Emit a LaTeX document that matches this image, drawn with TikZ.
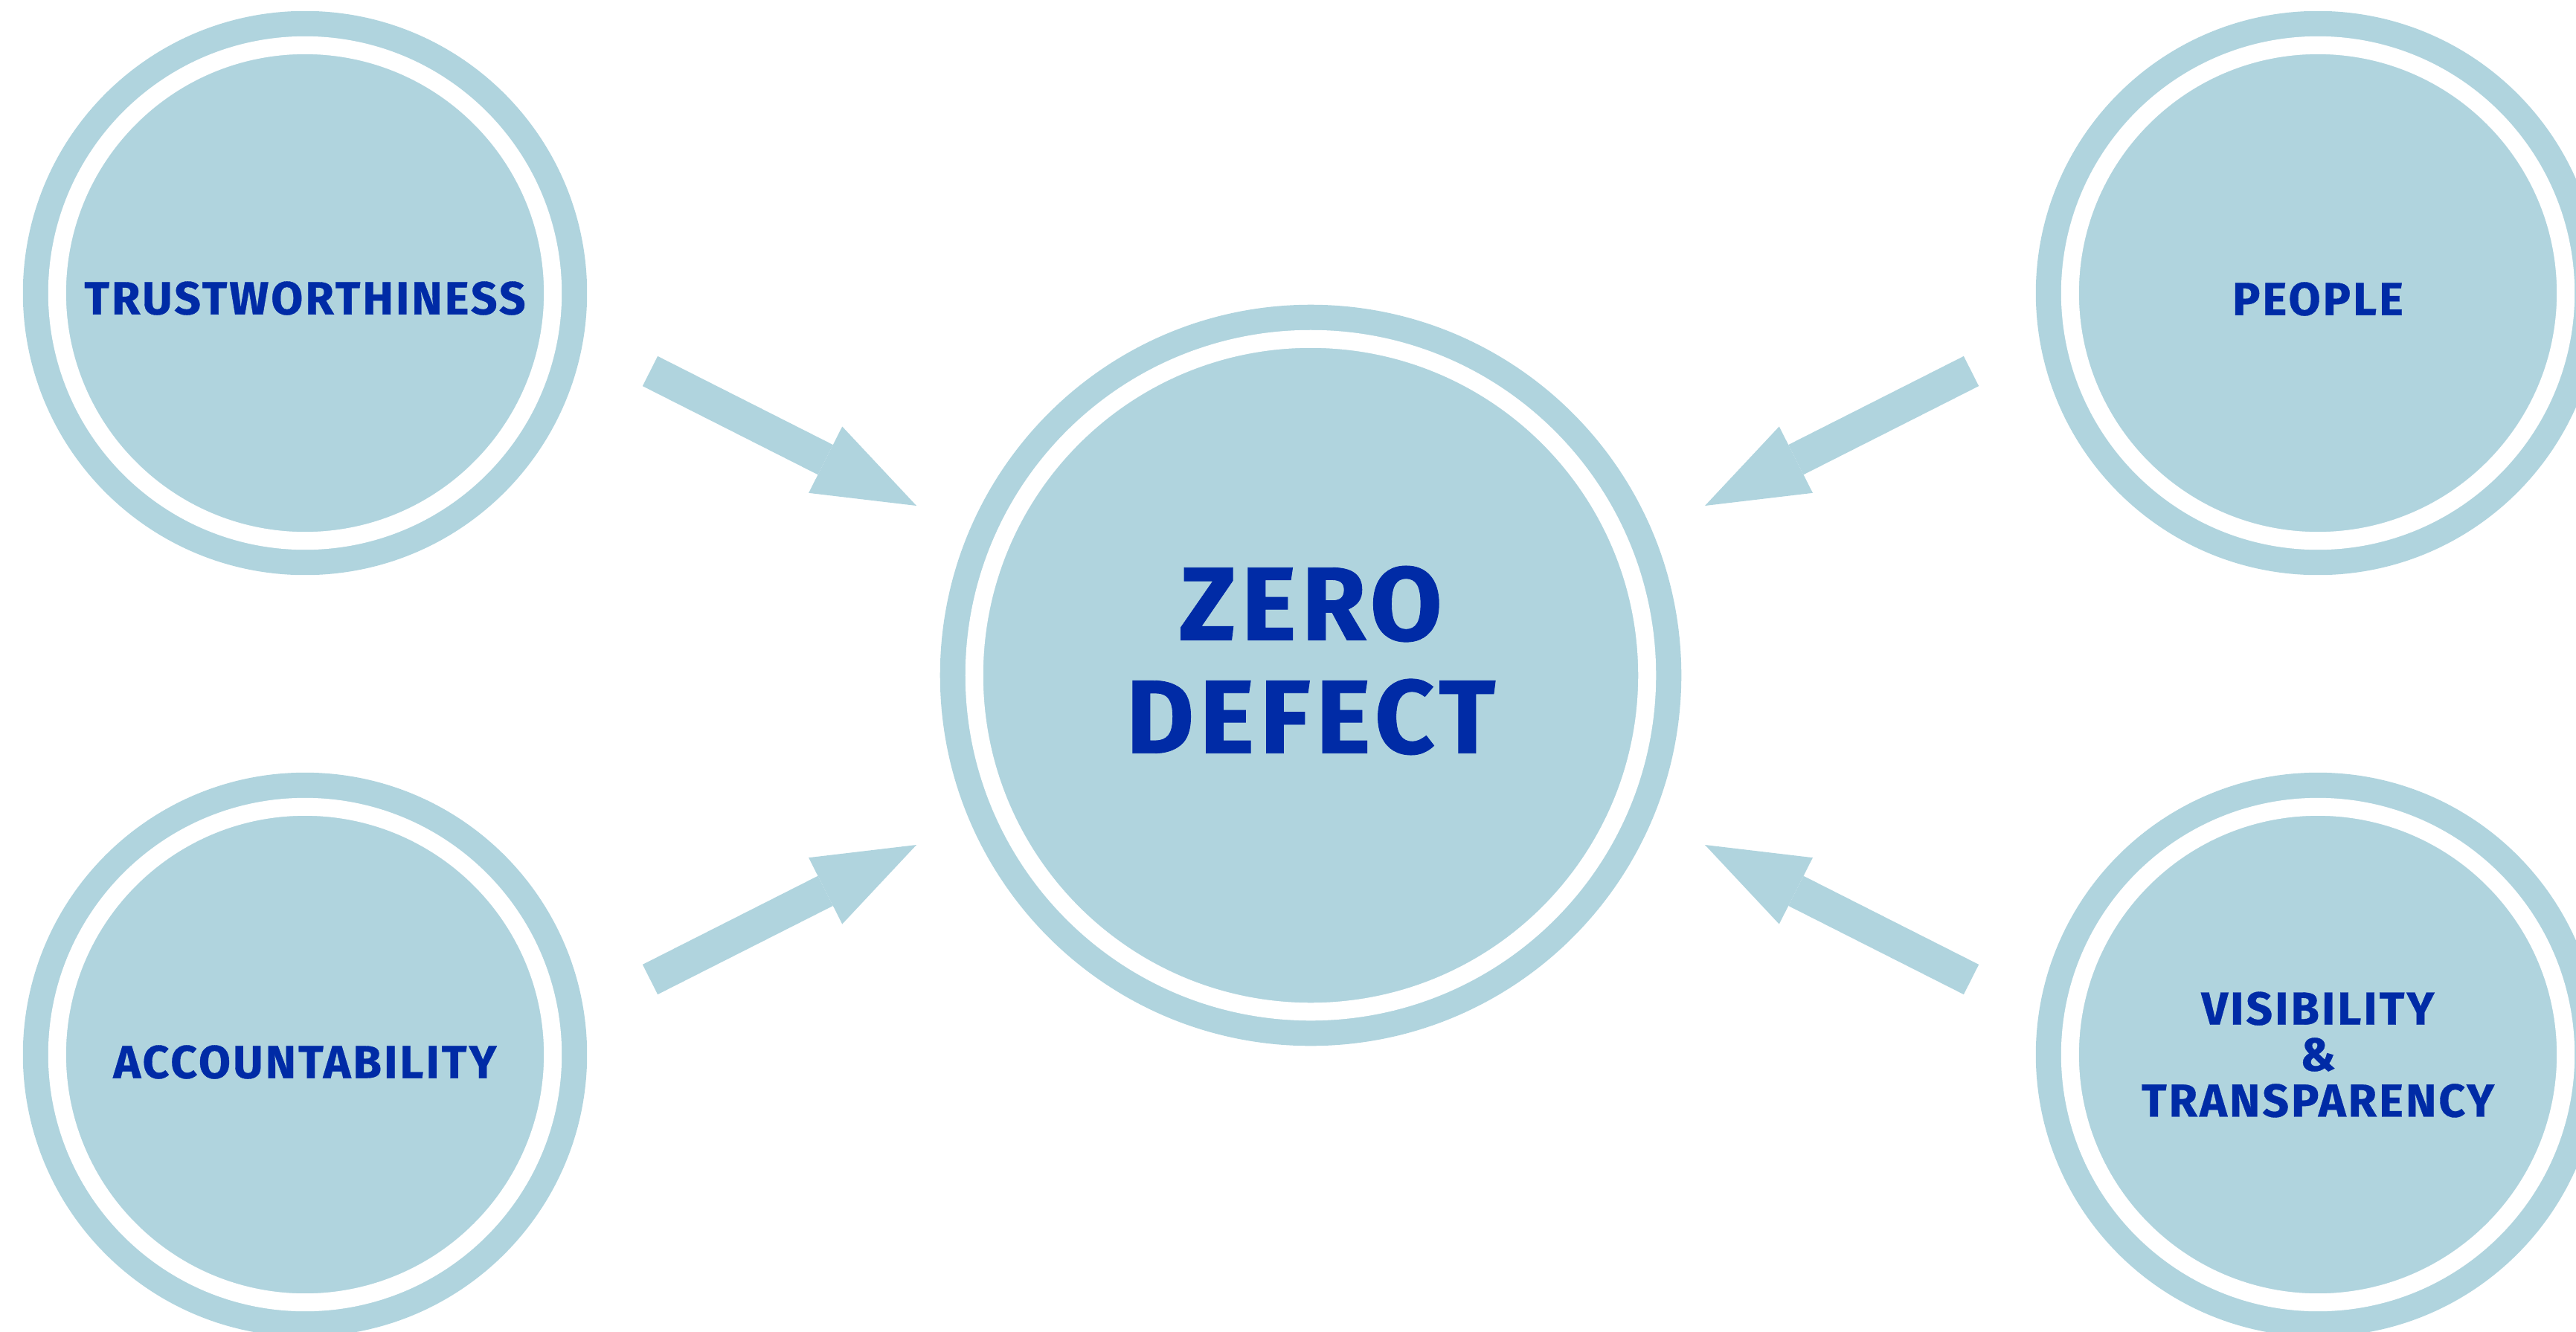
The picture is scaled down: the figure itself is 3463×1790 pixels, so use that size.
\documentclass[tikz,border=0pt]{standalone}
\usepackage{fontspec}
\setmainfont{Fira Sans}[LetterSpace=5]
\usepackage{tikz}
\usetikzlibrary{arrows.meta,calc}

\definecolor{ringblue}{RGB}{176,212,222}
\definecolor{textblue}{RGB}{0,43,166}

\tikzset{
  disk/.style={circle, fill=ringblue, draw=ringblue, double=white,
    double distance=0.24cm, line width=0.34cm, inner sep=0pt},
  smalldisk/.style={disk, minimum size=6.66cm},
  bigdisk/.style={disk, minimum size=9.04cm},
  tag/.style={text=textblue, align=center, inner sep=0pt,
    font=\bfseries\fontsize{17.7pt}{17.6pt}\selectfont\addfontfeatures{FakeBold=0.6}},
  bigtag/.style={tag,
    font=\bfseries\fontsize{40pt}{43.2pt}\selectfont\addfontfeatures{FakeBold=0.6}},
  flow/.style={draw=ringblue, line width=0.45cm,
    -{Triangle[length=1.37cm,width=1.0cm,line width=0pt]}}
}

\begin{document}
\begin{tikzpicture}[x=0.01cm, y=-0.01cm]

\useasboundingbox (0,0) rectangle (3463,1790);
\clip (0,0) rectangle (3463,1790);

% centre circle
\node[bigdisk] (zd) at (1762,908) {};
\node[bigtag] (zdtag) at ([yshift=0.2cm]zd.center) {ZERO\\DEFECT};

% outer circles
\node[smalldisk] (trust) at (410,394) {};
\node[smalldisk] (acc) at (410,1418) {};
\node[smalldisk] (people) at (3116,394) {};
\node[smalldisk] (vis) at (3116,1418) {};

\node[tag] (trusttag) at ([yshift=-0.07cm]trust.center) {TRUSTWORTHINESS};
\node[tag] (acctag) at ([yshift=-0.1cm]acc.center) {ACCOUNTABILITY};
\node[tag] (peopletag) at ([yshift=-0.08cm]people.center) {PEOPLE};
\node[tag] (vistag) at (vis.center) {VISIBILITY\\\&\\TRANSPARENCY};

\foreach \sx/\sy [count=\i] in {1/1,-1/1,1/-1,-1/-1}{
    \coordinate (tail\i) at ($(zd)+(-888*\sx,-409*\sy)$);
    \coordinate (tip\i) at ($(zd)+(-530*\sx,-228*\sy)$);
    \draw[flow] (tail\i) -- (tip\i);
}

\end{tikzpicture}
\end{document}
